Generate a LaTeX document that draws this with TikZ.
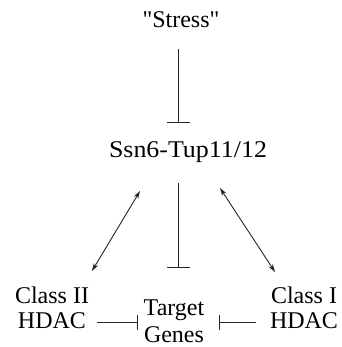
\documentclass[tikz,border=0pt]{standalone}
\usepackage{fontspec}
\setmainfont{Liberation Serif}[Ligatures=TeXOff]
\usetikzlibrary{arrows.meta}
\begin{document}
\begin{tikzpicture}[x=1pt,y=-1pt,
  lbl/.style={inner sep=0pt, font=\fontsize{24}{27}\selectfont, align=center},
  link/.style={draw=black!85, line width=0.9pt},
  inhib/.style={link, -{Bar[width=23pt,line width=0.9pt]}},
  inhibsm/.style={link, -{Bar[width=15pt,line width=0.9pt]}},
  both/.style={link, {Stealth[length=8pt,width=5pt]}-{Stealth[length=8pt,width=5pt]}}]
  \useasboundingbox (0,0) rectangle (341,347);
  % labels (base anchor sits on the last line of a two-line label)
  \node[lbl, anchor=base] (stress) at (181,28) {"Stress"};
  \node[lbl, anchor=base] (ssn) at (188,158) {\addfontfeatures{FakeStretch=1.08}Ssn6-Tup11/12};
  \node[lbl, anchor=base, font=\fontsize{24}{25}\selectfont] (c2) at (52,328) {Class II\\HDAC};
  \node[lbl, anchor=base] (tg) at (174,342) {Target\\Genes};
  \node[lbl, anchor=base, font=\fontsize{24}{25}\selectfont] (c1) at (304,328) {Class I\\HDAC};
  % connector end points
  \coordinate (s1) at (178,49);
  \coordinate (s2) at (178,123);
  \coordinate (t1) at (178,183);
  \coordinate (t2) at (178,268);
  \coordinate (la) at (140,191);
  \coordinate (lb) at (92,271);
  \coordinate (ra) at (220,188);
  \coordinate (rb) at (275,272);
  \coordinate (hl) at (97,322);
  \coordinate (hlt) at (138,322);
  \coordinate (hr) at (256,322);
  \coordinate (hrt) at (219,322);
  % connectors
  \draw[inhib] (s1) -- (s2);
  \draw[inhib] (t1) -- (t2);
  \draw[both] (la) -- (lb);
  \draw[both] (ra) -- (rb);
  \draw[inhibsm] (hl) -- (hlt);
  \draw[inhibsm] (hr) -- (hrt);
\end{tikzpicture}
\end{document}
